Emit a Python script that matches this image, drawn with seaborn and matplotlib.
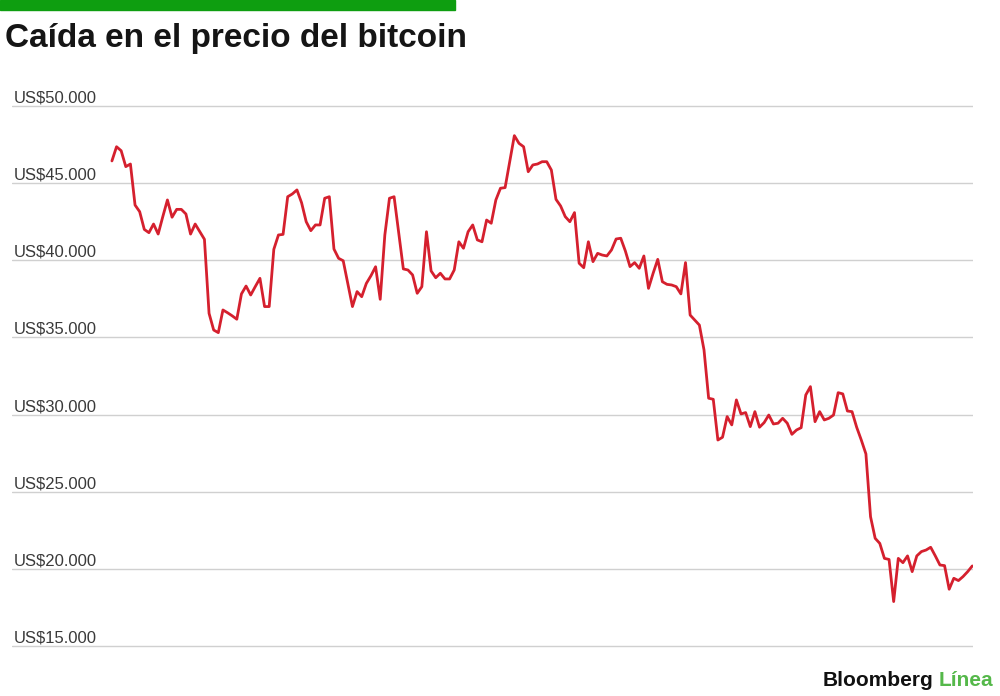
import matplotlib
matplotlib.use("Agg")
import matplotlib.pyplot as plt
import matplotlib.transforms as mtransforms
import pandas as pd
import seaborn as sns

# precio diario del bitcoin en US$
precio = [46440, 47360, 47100, 46070, 46240, 43580, 43150, 42000, 41790, 42350,
          41700, 42830, 43910, 42790, 43300, 43300, 43000, 41700, 42350, 41850,
          41360, 36560, 35480, 35310, 36780, 36600, 36400, 36180, 37820, 38330,
          37750, 38300, 38830, 37000, 37000, 40710, 41640, 41680, 44120, 44300,
          44560, 43730, 42500, 41920, 42290, 42290, 44020, 44120, 40730, 40130,
          39970, 38500, 37000, 37970, 37640, 38500, 39000, 39580, 37470, 41640,
          44020, 44120, 41800, 39440, 39370, 39050, 37860, 38290, 41850, 39310,
          38870, 39160, 38790, 38790, 39370, 41200, 40780, 41850, 42290, 41320,
          41200, 42610, 42400, 43910, 44670, 44710, 46400, 48080, 47580, 47360,
          45740, 46180, 46240, 46390, 46390, 45850, 43950, 43520, 42830, 42500,
          43090, 39810, 39520, 41200, 39910, 40450, 40340, 40280, 40670, 41380,
          41430, 40600, 39590, 39850, 39480, 40280, 38180, 39160, 40060, 38610,
          38440, 38400, 38290, 37820, 39850, 36450, 36130, 35800, 34190, 31060,
          30990, 28350, 28530, 29870, 29330, 30950, 30040, 30130, 29220, 30190,
          29180, 29480, 29970, 29390, 29440, 29760, 29440, 28720, 29000, 29150,
          31270, 31810, 29540, 30190, 29650, 29760, 29970, 31420, 31340, 30230,
          30190, 29180, 28350, 27450, 23380, 21980, 21650, 20680, 20610, 17880,
          20680, 20400, 20840, 19820, 20840, 21120, 21220, 21400, 20840, 20250,
          20210, 18680, 19390, 19240, 19500, 19820, 20190]
fechas = pd.date_range("2022-01-01", periods=len(precio), freq="D")

ticks = [15000, 20000, 25000, 30000, 35000, 40000, 45000, 50000]
tick_labels = ["US$15.000", "US$20.000", "US$25.000", "US$30.000",
               "US$35.000", "US$40.000", "US$45.000", "US$50.000"]

sns.set_style("white")
plt.rcParams["font.family"] = ["Liberation Sans", "DejaVu Sans"]

fig = plt.figure(figsize=(10, 6.96), dpi=100)
ax = fig.add_axes([0.012, 1 - 652 / 696, 0.961, 552 / 696])

df = pd.DataFrame({"fecha": fechas, "precio": precio})
sns.lineplot(data=df, x="fecha", y="precio", color="#d5202e", linewidth=2.0, ax=ax, zorder=3)

for t in ticks:
    ax.axhline(t, color="#d0d0d0", linewidth=1, zorder=1)

ax.set_ylim(14611, 50389)
ax.set_xlim(fechas[0] - pd.Timedelta(days=21.6), fechas[-1] + pd.Timedelta(days=0.15))
ax.set_xticks([])
ax.set_yticks([])
ax.set_xlabel("")
ax.set_ylabel("")
for s in ax.spines.values():
    s.set_visible(False)

trans = mtransforms.blended_transform_factory(ax.transAxes, ax.transData)
for t, lab in zip(ticks, tick_labels):
    ax.annotate(lab, xy=(0.002, t), xycoords=trans, xytext=(0, 2.5),
                textcoords="offset points", ha="left", va="baseline",
                fontsize=12, color="#3a3a3a")

# barra verde y titulo
fig.patches.append(plt.Rectangle((0, 1 - 10 / 696), 0.455, 10 / 696,
                                 transform=fig.transFigure, color="#0e9e10", zorder=5))
fig.text(0.005, 1 - 47 / 696, "Caída en el precio del bitcoin", fontsize=24,
         fontweight="bold", color="#151515", va="baseline", ha="left")

# logo
fig.text(0.933, 1 - 685.5 / 696, "Bloomberg", fontsize=15, fontweight="bold",
         color="#111111", ha="right", va="baseline")
fig.text(0.939, 1 - 685.5 / 696, "Línea", fontsize=15, fontweight="bold",
         color="#55b84a", ha="left", va="baseline")

fig.savefig("out.png", dpi=100)
